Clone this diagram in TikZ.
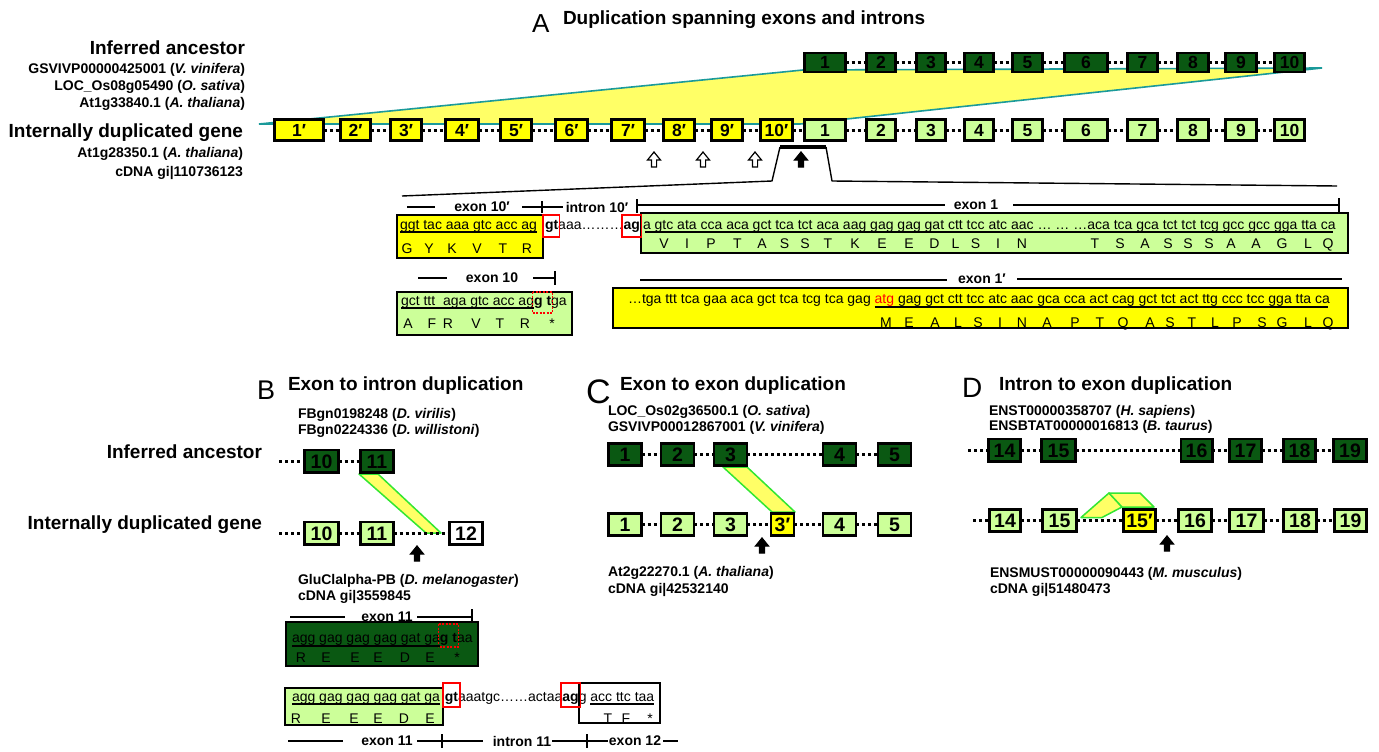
\documentclass[tikz,border=0pt]{standalone}
\usepackage{fontspec}
\setmainfont{Liberation Sans}
\newcommand{\myfs}[1]{\fontsize{#1}{#1}\selectfont}
\definecolor{dkg}{HTML}{0A5812}
\definecolor{ltg}{HTML}{CCFF99}
\definecolor{yel}{HTML}{FFFF00}
\definecolor{pyel}{HTML}{FFFF66}
\definecolor{tealc}{HTML}{1A9A9A}
\definecolor{brg}{HTML}{33E633}
\tikzset{
  pics/uparrow/.style={code={\draw[line width=1.2pt, fill=#1] (-2.6,0) -- (-2.6,-7) -- (-6.5,-7) -- (0,-15) -- (6.5,-7) -- (2.6,-7) -- (2.6,0) -- cycle;}},
}
\begin{document}
\begin{tikzpicture}[x=1pt,y=-1pt,
  every node/.style={inner sep=0pt, outer sep=0pt},
  ex/.style={draw=black, line width=2.6pt, font=\bfseries\myfs{17.5}, text height=12.5pt, text depth=0pt},
  exb/.style={draw=black, line width=2.6pt, font=\bfseries\myfs{19.5}, text height=14pt, text depth=0pt, minimum height=22.4pt},
  dk/.style={fill=dkg}, lt/.style={fill=ltg}, yl/.style={fill=yel}, wh/.style={fill=white},
  intr/.style={line width=3pt, dash pattern=on 3pt off 3pt},
  lab/.style={font=\bfseries\myfs{14}, anchor=base west},
  labr/.style={font=\bfseries\myfs{14}, anchor=base east},
  hd/.style={font=\bfseries\myfs{14}},
  big/.style={font=\bfseries\myfs{19}},
  seqt/.style={font=\myfs{14}, anchor=base west},
  seqb/.style={font=\bfseries\myfs{14}, anchor=base west},
  aa/.style={font=\myfs{14}, anchor=base},
  brk/.style={line width=1.4pt},
  rbox/.style={draw=red, line width=1.4pt},
  rdot/.style={draw=red, line width=1.6pt, dash pattern=on 2pt off 1.5pt},
  sbox/.style={draw=black, line width=1.6pt},
  ulin/.style={line width=1.2pt},
  dup/.style={draw=brg, fill=pyel, line width=1.5pt, line join=round},
]
\useasboundingbox (0,0) rectangle (1379,752);

% ================= Panel A =================
\node[anchor=base west, font=\myfs{26}] (tA) at (532,33) {A};
\node[big, anchor=base west] (tAt) at (563,25) {Duplication spanning exons and introns};

\node[big, anchor=base east] (ia) at (245,55) {Inferred ancestor};
\node[labr] (g1) at (245,74) {GSVIVP00000425001 (\textit{V. vinifera})};
\node[labr] (g2) at (245,90.5) {LOC\_Os08g05490 (\textit{O. sativa})};
\node[labr] (g3) at (245,107) {At1g33840.1 (\textit{A. thaliana})};
\node[big, anchor=base east] (idg) at (243,137) {Internally duplicated gene};
\node[labr] (g4) at (243,157) {At1g28350.1 (\textit{A. thaliana})};
\node[labr] (g5) at (243,176) {cDNA gi|110736123};

% duplicated region
\coordinate (pLL) at (259,124);
\coordinate (pLR) at (800,124);
\coordinate (pUR) at (1322,68);
\coordinate (pUL) at (803,70);
\draw[tealc, line width=1.6pt, fill=pyel] (pLL) -- (pLR) -- (pUR) -- (pUL) -- cycle;

% ancestor row
\foreach \n/\c/\w in {1/825/44, 2/881/32, 3/931/32, 4/979/32, 5/1027.5/33, 6/1086/46, 7/1142.5/33, 8/1193/34, 9/1241/34, 10/1289.5/33}
  \node[ex, dk, minimum width=\w-2.6, minimum height=19] (ad\n) at (\c,62.5) {\n};
% duplicated gene row
\foreach \n/\c/\w in {1/299/52, 2/355.5/33, 3/406/34, 4/462/36, 5/516/34, 6/571.5/35, 7/628/36, 8/679/34, 9/727/34, 10/776.5/35}
  \node[ex, yl, minimum width=\w-2.6, minimum height=21.4] (ap\n) at (\c,130) {\n′};
\foreach \n/\c/\w in {1/825/44, 2/881/32, 3/931/32, 4/979/32, 5/1027.5/33, 6/1086/46, 7/1142.5/33, 8/1193/34, 9/1241/34, 10/1289.5/33}
  \node[ex, lt, minimum width=\w-2.6, minimum height=21.4] (al\n) at (\c,130) {\n};

\foreach \a/\b in {1/2,2/3,3/4,4/5,5/6,6/7,7/8,8/9,9/10}{
  \draw[intr] (ad\a.east) -- (ad\b.west);
  \draw[intr] (ap\a.east) -- (ap\b.west);
  \draw[intr] (al\a.east) -- (al\b.west);
}
\draw[intr] (ap10.east) -- (al1.west);

% arrows and zoom bracket
\pic at (654,167) {uparrow=white};
\pic at (703,167) {uparrow=white};
\pic at (755,167) {uparrow=white};
\pic at (801,167) {uparrow=black};
\coordinate (bl) at (780,147);
\coordinate (br) at (826,147);
\coordinate (bl2) at (772,181);
\coordinate (br2) at (832,181);
\coordinate (lend) at (402,196);
\coordinate (rend) at (1337,186);
\draw[line width=4.5pt] (bl) -- (br);
\draw[brk, line join=round] (bl) -- (bl2) -- (lend);
\draw[brk, line join=round] (br) -- (br2) -- (rend);

% sequence labels row 1
\draw[brk] (407,207) -- (435,207);
\node[hd] (l10p) at (482,207) {exon 10′};
\draw[brk] (522,207) -- (563,207);
\draw[brk] (542,201) -- (542,213);
\node[hd] (li10p) at (597,207) {intron 10′};
\draw[brk] (637,199) -- (637,213);
\draw[brk] (637,205) -- (945,205);
\node[hd] (le1) at (976,205) {exon 1};
\draw[brk] (1013,205) -- (1339,205);
\draw[brk] (1339,198) -- (1339,212);

% sequence row 1
\draw[sbox, fill=yel] (397,215) rectangle (543,258);
\draw[sbox, fill=ltg] (641,213) rectangle (1348,253);
\node[seqt] (s1a) at (400,229) {ggt tac aaa gtc acc ag};
\node[seqb] (s1gt) at (545,229) {gt};
\node[seqt] (s1i) at (s1gt.base east) {aaa………};
\node[seqb] (s1ag) at (s1i.base east) {ag};
\node[seqt] (s1b) at (643,229) {a gtc ata cca aca gct tca tct aca aag gag gag gat ctt tcc atc aac … … …aca tca gca tct tct tcg gcc gcc gga tta ca};
\draw[rbox] ([xshift=-2]s1gt.base west |- 0,215) rectangle ([xshift=1.5]s1gt.base east |- 0,237);
\draw[rbox] ([xshift=-1.5]s1ag.base west |- 0,215) rectangle ([xshift=1.5]s1ag.base east |- 0,237);
\draw[ulin] ([yshift=-3]s1a.base west) -- ([yshift=-3]s1a.base east);
\draw[ulin] ([yshift=-3,xshift=2]s1b.base west) -- ([yshift=-3,xshift=-3]s1b.base east);
\foreach \x/\a in {407/G,429/Y,452/K,477/V,503/T,527/R}
  \node[aa] (ra\x) at (\x,253) {\a};
\foreach \x/\a in {664/V,687/I,711/P,737.5/T,762/A,784.6/S,805/S,828/T,855/K,882/E,909/E,934.5/D,955.5/L,975.6/S,998/I,1022/N,1095/T,1120/S,1145/A,1168/S,1188/S,1209/S,1231/A,1256/A,1282/G,1308/L,1328/Q}
  \node[aa] (rb\x) at (\x,248) {\a};

% sequence labels row 2
\draw[brk] (418,278) -- (447,278);
\node[hd] (l10) at (492,278) {exon 10};
\draw[brk] (533,278) -- (555,278);
\draw[brk] (555,271) -- (555,285);
\draw[brk] (640,280) -- (947,280);
\node[hd] (l1p) at (982,279) {exon 1′};
\draw[brk] (1017,279) -- (1342,279);

% sequence row 2
\draw[sbox, fill=ltg] (397,292) rectangle (572,335);
\draw[sbox, fill=yel] (613,288) rectangle (1348,328);
\node[seqt] (s2a) at (401,305) {gct ttt\ \ aga gtc acc ag};
\node[seqb] (s2g) at (s2a.base east) {g t};
\node[seqt] (s2c) at (s2g.base east) {ga};
\draw[rdot] ([xshift=-1.5]s2g.base west |- 0,292) rectangle ([xshift=1.5]s2g.base east |- 0,313);
\draw[ulin] ([yshift=-3]s2a.base west) -- ([yshift=-3]s2a.base east);
\foreach \x/\a in {408/A,432/F,448/R,476/V,500/T,525/R,552/*}
  \node[aa] (rc\x) at (\x,328) {\a};
\node[seqt] (s3a) at (628,303) {…tga ttt tca gaa aca gct tca tcg tca gag};
\node[seqt] (s3b) at ([xshift=3.9]s3a.base east) {\textcolor{red}{atg} gag gct ctt tcc atc aac gca cca act cag gct tct act ttg ccc tcc gga tta ca};
\draw[ulin] ([yshift=-4]s3b.base west) -- ([yshift=-4,xshift=-2]s3b.base east);
\foreach \x/\a in {886/M,909/E,935/A,958/L,978/S,1000/I,1022/N,1047/A,1075/P,1100/T,1123/Q,1150/A,1170/S,1192/T,1215/L,1237/P,1262/S,1282/G,1308/L,1328/Q}
  \node[aa] (rd\x) at (\x,327) {\a};

% ================= Panel B =================
\node[anchor=base west, font=\myfs{27}] (tB) at (257,399) {B};
\node[big, anchor=base west] (tBt) at (288,390) {Exon to intron duplication};
\node[lab] (b1) at (298,418) {FBgn0198248 (\textit{D. virilis})};
\node[lab] (b2) at (298,434) {FBgn0224336 (\textit{D. willistoni})};
\node[big, anchor=base east] (bia) at (262,458) {Inferred ancestor};
\node[big, anchor=base east] (bidg) at (262,529) {Internally duplicated gene};

\coordinate (bp1) at (359,474);
\coordinate (bp2) at (378,474);
\coordinate (bp3) at (441,533);
\coordinate (bp4) at (426,533);
\draw[dup] (bp1) -- (bp2) -- (bp3) -- (bp4) -- cycle;

\node[exb, dk, minimum width=34.4] (bd10) at (321.5,461) {10};
\node[exb, dk, minimum width=33.4] (bd11) at (377,461) {11};
\node[exb, lt, minimum width=34.4] (bl10) at (321.5,533) {10};
\node[exb, lt, minimum width=33.4] (bl11) at (377,533) {11};
\node[exb, wh, minimum width=33.4] (bl12) at (466,533) {12};
\coordinate (bds) at (279,461);
\coordinate (bls) at (279,533);
\draw[intr] (bds) -- (bd10.west);
\draw[intr] (bd10.east) -- (bd11.west);
\draw[intr] (bls) -- (bl10.west);
\draw[intr] (bl10.east) -- (bl11.west);
\draw[intr] (bl11.east) -- (bl12.west);
\pic at (417,561) {uparrow=black};

\node[lab] (b3) at (298,584) {GluClalpha-PB (\textit{D. melanogaster})};
\node[lab] (b4) at (298,600) {cDNA gi|3559845};

\draw[brk] (290,617) -- (345,617);
\node[hd] (bx11) at (387,617) {exon 11};
\draw[brk] (417,617) -- (472,617);
\draw[brk] (472,609) -- (472,623);

\draw[sbox, fill=dkg] (286,622) rectangle (478,666);
\node[seqt] (bs1) at (292,642) {agg gag gag gag gat ga};
\node[seqb] (bs1g) at (bs1.base east) {g t};
\node[seqt] (bs1c) at (bs1g.base east) {aa};
\draw[rdot] ([xshift=-1.5]bs1g.base west |- 0,624) rectangle ([xshift=1.5]bs1g.base east |- 0,647);
\draw[ulin] ([yshift=-4]bs1.base west) -- ([yshift=-4]bs1.base east);
\foreach \x/\a in {301/R,326/E,355/E,378/E,405/D,430/E,457/*}
  \node[aa] (re\x) at (\x,662) {\a};

\draw[sbox, fill=ltg] (285,688) rectangle (443,725);
\node[seqt] (bs2) at (292,701) {agg gag gag gag gat ga};
\node[seqb] (bs2gt) at ([xshift=5]bs2.base east) {gt};
\node[seqt] (bs2i) at (bs2gt.base east) {aaatgc……actaa};
\node[seqb] (bs2ag) at (bs2i.base east) {ag};
\node[seqt] (bs2g2) at (bs2ag.base east) {g};
\node[seqt] (bs2e) at ([xshift=3.9]bs2g2.base east) {acc ttc taa};
\draw[sbox] (bs2ag.base east |- 0,683) rectangle ([xshift=6]bs2e.base east |- 0,723);
\draw[rbox] ([xshift=-2]bs2gt.base west |- 0,683) rectangle ([xshift=2]bs2gt.base east |- 0,707);
\draw[rbox] ([xshift=-1.5]bs2ag.base west |- 0,683) rectangle ([xshift=1.5]bs2ag.base east |- 0,707);
\draw[ulin] ([yshift=-3]bs2.base west) -- ([yshift=-3]bs2.base east);
\draw[ulin] ([yshift=-3]bs2e.base west) -- ([yshift=-3]bs2e.base east);
\foreach \x/\a in {296/R,326/E,354/E,378/E,404/D,430/E,608/T,626/F,650/*}
  \node[aa] (rf\x) at (\x,723) {\a};

\draw[brk] (288,741) -- (343,741);
\node[hd] (bx11b) at (387,741) {exon 11};
\draw[brk] (417,741) -- (483,741);
\draw[brk] (442,734) -- (442,748);
\node[hd] (bi11) at (522,741) {intron 11};
\draw[brk] (552,741) -- (608,741);
\draw[brk] (587,734) -- (587,748);
\node[hd] (bx12) at (635,741) {exon 12};
\draw[brk] (663,741) -- (678,741);

% ================= Panel C =================
\node[anchor=base west, font=\myfs{34}] (tC) at (586,403) {C};
\node[big, anchor=base west] (tCt) at (620,390) {Exon to exon duplication};
\node[lab] (c1) at (608,415) {LOC\_Os02g36500.1 (\textit{O. sativa})};
\node[lab] (c2) at (608,431) {GSVIVP00012867001 (\textit{V. vinifera})};

\coordinate (cp1) at (723,467);
\coordinate (cp2) at (747,467);
\coordinate (cp3) at (795,512);
\coordinate (cp4) at (772,512);
\draw[dup] (cp1) -- (cp2) -- (cp3) -- (cp4) -- cycle;

\foreach \n/\c in {1/625,2/677.5,3/730.5,4/839.5,5/894.5}{
  \node[exb, dk, minimum width=33] (cd\n) at (\c,454.5) {\n};
  \node[exb, lt, minimum width=33] (cl\n) at (\c,524.5) {\n};
}
\node[exb, yl, minimum width=23] (cl3p) at (782.5,524.5) {3′};
\foreach \a/\b in {1/2,2/3,3/4,4/5} \draw[intr] (cd\a.east) -- (cd\b.west);
\draw[intr] (cl1.east) -- (cl2.west);
\draw[intr] (cl2.east) -- (cl3.west);
\draw[intr] (cl3.east) -- (cl3p.west);
\draw[intr] (cl3p.east) -- (cl4.west);
\draw[intr] (cl4.east) -- (cl5.west);
\pic at (762,553) {uparrow=black};

\node[lab] (c3) at (608,576) {At2g22270.1 (\textit{A. thaliana})};
\node[lab] (c4) at (608,593) {cDNA gi|42532140};

% ================= Panel D =================
\node[anchor=base west, font=\myfs{28}] (tD) at (962,397) {D};
\node[big, anchor=base west] (tDt) at (999,390) {Intron to exon duplication};
\node[lab] (d1) at (989,415) {ENST00000358707 (\textit{H. sapiens})};
\node[lab] (d2) at (989,430) {ENSBTAT00000016813 (\textit{B. taurus})};

\coordinate (dq1) at (1081,517.5);
\coordinate (dq2) at (1102,517.5);
\coordinate (dq3) at (1122,507);
\coordinate (dq4) at (1109,493);
\coordinate (dq5) at (1140,493);
\coordinate (dq6) at (1154,507);
\draw[dup] (dq1) -- (dq2) -- (dq3) -- (dq4) -- cycle;
\draw[dup] (dq4) -- (dq5) -- (dq6) -- (dq3) -- cycle;

\foreach \n/\c/\w in {14/1004.5/35, 15/1058.5/37, 16/1196.5/34, 17/1245.5/35, 18/1299.5/35, 19/1350/36}
  \node[exb, dk, minimum width=\w-2.6] (dd\n) at (\c,450) {\n};
\foreach \n/\c/\w in {14/1005/34, 15/1059.5/37, 16/1195/36, 17/1246.5/37, 18/1300/36, 19/1350.5/35}
  \node[exb, lt, minimum width=\w-2.6] (dl\n) at (\c,520.5) {\n};
\node[exb, yl, minimum width=32.4] (dl15p) at (1139.5,520.5) {15′};
\coordinate (dds) at (968,450);
\coordinate (dls) at (973,520.5);
\draw[intr] (dds) -- (dd14.west);
\foreach \a/\b in {14/15,15/16,16/17,17/18,18/19} \draw[intr] (dd\a.east) -- (dd\b.west);
\draw[intr] (dls) -- (dl14.west);
\draw[intr] (dl14.east) -- (dl15.west);
\draw[intr] (dl15.east) -- (dl15p.west);
\draw[intr] (dl15p.east) -- (dl16.west);
\foreach \a/\b in {16/17,17/18,18/19} \draw[intr] (dl\a.east) -- (dl\b.west);
\pic at (1167,551) {uparrow=black};

\node[lab] (d3) at (990,577) {ENSMUST00000090443 (\textit{M. musculus})};
\node[lab] (d4) at (990,593) {cDNA gi|51480473};
\end{tikzpicture}
\end{document}
